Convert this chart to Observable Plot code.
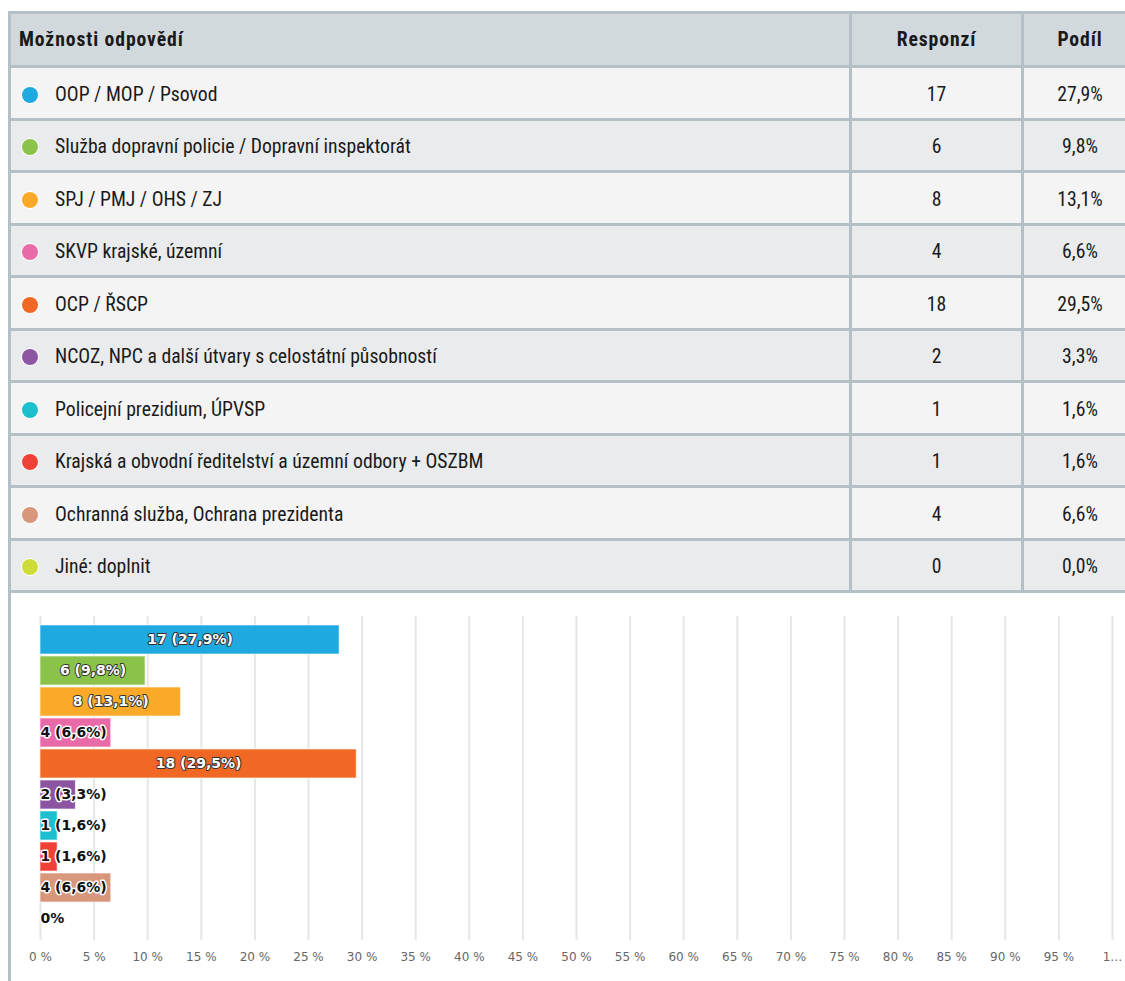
<!DOCTYPE html>
<html>
<head>
<meta charset="utf-8">
<script src="https://cdn.jsdelivr.net/npm/d3@7"></script>
<script src="https://cdn.jsdelivr.net/npm/@observablehq/plot@0.6"></script>
<style>
  html, body { margin: 0; padding: 0; background: #fff; overflow: hidden; width: 1125px; height: 981px; }
  #wrap { position: relative; width: 1125px; height: 981px; overflow: hidden; }
  table { position: absolute; left: 8px; top: 11px; width: 1131px; border-collapse: collapse;
          font-family: "Roboto Condensed", "Liberation Sans Narrow", "Roboto", sans-serif; font-size: 19.7px; color: #1a1a1a; }
  td, th { border: 3px solid #b4c0c5; padding: 0; }
  th { background: #d2d9dc; height: 51px; font-weight: bold; font-size: 19.7px; letter-spacing: 0.9px; }
  th.c1 { text-align: left; padding-left: 8px; }
  td { height: 46.5px; padding-top: 3px; }
  tr.odd td { background: #f4f4f4; }
  tr.even td { background: #e9ebec; }
  td.c1 { padding-left: 11px; }
  td.c2, td.c3, th.c2, th.c3 { text-align: center; }
  .dot { display: inline-block; width: 16px; height: 16px; border-radius: 50%; vertical-align: -2px; margin-right: 17px; box-shadow: 0 0 0 1px #fff; }
  #panel { position: absolute; left: 8px; top: 590px; width: 1130px; height: 400px; border-left: 3px solid #b4c0c5; }
  #chart { position: absolute; left: 0; top: 595px; }
</style>
</head>
<body>
<div id="wrap">
  <div id="panel"></div>
  <table id="tbl"></table>
  <div id="chart"></div>
</div>
<script>
const categories = [
  "OOP / MOP / Psovod",
  "Služba dopravní policie / Dopravní inspektorát",
  "SPJ / PMJ / OHS / ZJ",
  "SKVP krajské, územní",
  "OCP / ŘSCP",
  "NCOZ, NPC a další útvary s celostátní působností",
  "Policejní prezidium, ÚPVSP",
  "Krajská a obvodní ředitelství a územní odbory + OSZBM",
  "Ochranná služba, Ochrana prezidenta",
  "Jiné: doplnit"
];
const counts = [17, 6, 8, 4, 18, 2, 1, 1, 4, 0];
const shares = [27.9, 9.8, 13.1, 6.6, 29.5, 3.3, 1.6, 1.6, 6.6, 0.0];
const colors = ["#1ea9e0", "#8bc34a", "#fba928", "#e86aa8", "#f06824", "#8c55a2", "#1bbfce", "#ef4136", "#d8967a", "#cddc39"];
const headers = ["Možnosti odpovědí", "Responzí", "Podíl"];
const xTicks = [0, 5, 10, 15, 20, 25, 30, 35, 40, 45, 50, 55, 60, 65, 70, 75, 80, 85, 90, 95, 100];

const fmt = v => v.toFixed(1).replace(".", ",");

// Table
const tbl = document.getElementById("tbl");
let html = `<tr><th class="c1" style="width:830px">${headers[0]}</th><th class="c2" style="width:169px">${headers[1]}</th><th class="c3">${headers[2]}</th></tr>`;
categories.forEach((c, i) => {
  html += `<tr class="${i % 2 ? "even" : "odd"}"><td class="c1"><span class="dot" style="background:${colors[i]}"></span>${c}</td><td class="c2">${counts[i]}</td><td class="c3">${fmt(shares[i])}%</td></tr>`;
});
tbl.innerHTML = html;

// Chart
const data = categories.map((c, i) => ({
  cat: c, count: counts[i], share: shares[i], color: colors[i],
  label: shares[i] === 0 ? "0%" : `${counts[i]} (${fmt(shares[i])}%)`,
  inside: shares[i] >= 9
}));

const chart = Plot.plot({
  width: 1125,
  height: 386,
  marginLeft: 40,
  marginRight: 13,
  marginTop: 21,
  marginBottom: 41,
  style: { background: "transparent", fontFamily: "'DejaVu Sans', sans-serif" },
  x: { domain: [0, 100] },
  y: { domain: categories, insetTop: 4, insetBottom: 3, paddingInner: 0.08, paddingOuter: 0.02, axis: null },
  marks: [
    Plot.gridX(xTicks, { stroke: "#e6e6e6", strokeOpacity: 1, strokeWidth: 2 }),
    Plot.barX(data, { x: "share", y: "cat", fill: "color", stroke: "#fff", strokeWidth: 1, strokeOpacity: 0.6 }),
    Plot.ruleX(data.filter(d => d.share === 0), { x: "share", y: "cat", stroke: "#c5d0e8", strokeWidth: 1.5 }),
    Plot.text(data.filter(d => d.inside), {
      x: d => d.share / 2, y: "cat", text: "label", fill: "#fff", stroke: "#333", strokeWidth: 2,
      fontWeight: "bold", fontSize: 14, textAnchor: "middle"
    }),
    Plot.text(data.filter(d => !d.inside), {
      x: 0, y: "cat", text: "label", fill: "#111", stroke: "#fff", strokeWidth: 3,
      fontWeight: "bold", fontSize: 14, textAnchor: "start", dx: 0
    }),
    Plot.axisX(xTicks, {
      anchor: "bottom", tickSize: 0, tickPadding: 12, label: null,
      tickFormat: d => d === 100 ? "1…" : `${d} %`,
      fill: "#666", fontSize: 12
    })
  ]
});
document.getElementById("chart").appendChild(chart);
</script>
</body>
</html>
